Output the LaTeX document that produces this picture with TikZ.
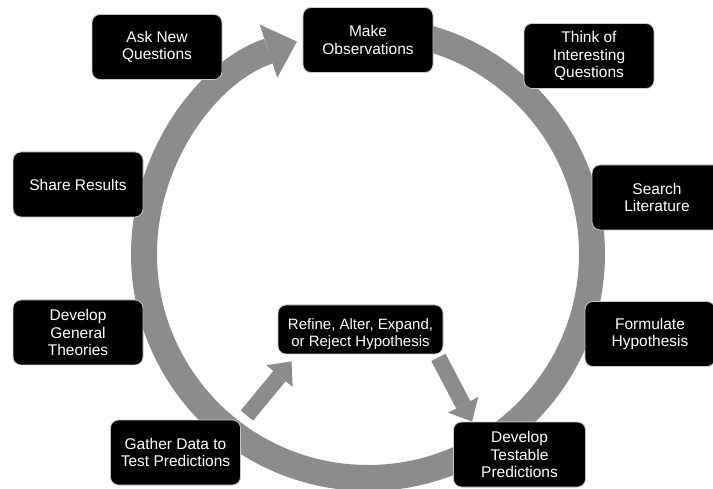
\documentclass[tikz,border=0pt]{standalone}
\usepackage{fontspec}
\setmainfont{Liberation Sans}
\usetikzlibrary{arrows.meta,calc,backgrounds}
\definecolor{ringgray}{RGB}{140,140,140}
\definecolor{edgegray}{RGB}{200,200,200}

\begin{document}
\begin{tikzpicture}[x=1pt,y=1pt,
  every node/.style={font=\fontsize{15.5}{17.5}\selectfont,align=center,text=white},
  box/.style={draw=edgegray,line width=0.8pt,fill=black,rounded corners=8pt,minimum width=130pt,minimum height=65pt,inner sep=2pt},
  ring/.style={line width=26pt,ringgray,-{Triangle[length=30pt,width=56pt,line width=0pt]}},
  blockarrow/.style={line width=16pt,ringgray,-{Triangle[length=19pt,width=34pt,line width=0pt]}}]
  \useasboundingbox (0,0) rectangle (713,488);
  \coordinate (ctr) at (368,234);
  \draw[ring] ([shift={(86:224pt)}]ctr) arc[start angle=86,end angle=-251.5,radius=224pt];
  \node[box] (obs) at (368,448) {Make\\Observations};
  \node[box] (ask) at (157,441) {Ask New\\Questions};
  \node[box] (think) at (589,432) {Think of\\Interesting\\Questions};
  \node[box] (search) at (657,290.5) {Search\\Literature};
  \node[box] (formulate) at (650,154) {Formulate\\Hypothesis};
  \node[box] (share) at (78,303.5) {Share Results};
  \node[box] (theories) at (78,155.5) {Develop\\General\\Theories};
  \node[box,minimum width=165pt,minimum height=49pt,text height=35pt,text depth=0pt,font=\fontsize{15}{17}\selectfont] (refine) at (360.5,158.5) {Refine, Alter, Expand,\\or Reject Hypothesis};
  \node[box] (gather) at (175.5,35.5) {Gather Data to\\Test Predictions};
  \node[box,minimum width=132pt] (testable) at (519.5,33.5) {Develop\\Testable\\Predictions};
  \begin{pgfonlayer}{background}
    \draw[blockarrow] ($(gather.north east)+(6,4)$) -- ($(refine.south west)+(14,-7)$);
    \draw[blockarrow] ($(refine.south east)+(-5,-3)$) -- ($(testable.north west)+(19,0)$);
  \end{pgfonlayer}
\end{tikzpicture}
\end{document}
